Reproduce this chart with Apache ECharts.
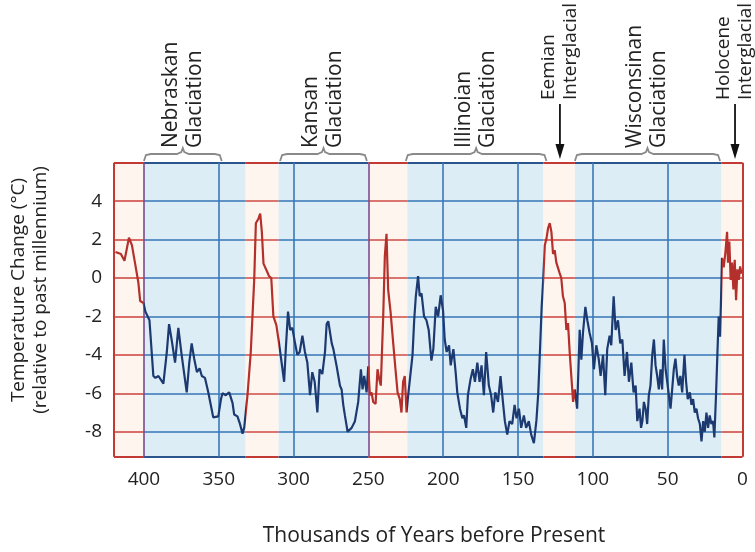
<!DOCTYPE html>
<html>
<head>
<meta charset="utf-8">
<script src="https://cdn.jsdelivr.net/npm/echarts@6/dist/echarts.min.js"></script>
<style>
  html, body { margin: 0; padding: 0; background: #fff; }
  #chart { width: 755px; height: 552px; }
</style>
</head>
<body>
<div id="chart"></div>
<script>
// thousands of years before present
var ages = [
  419, 415.4, 413, 410, 408, 406, 403.7, 402.5, 400.3, 399, 396.3, 395.4, 393.7, 392.3, 390.3, 387,
  384.7, 383.2, 381.5, 379.2, 377, 374.8, 371.4, 369.7, 368.1, 366.4, 364.6, 362.8, 361.3, 359.2, 357,
  353.7, 350.3, 348.5, 347.5, 345.3, 343, 340.8, 339.7, 337.5, 336, 334.1, 333, 330.8, 328.6, 326.3,
  325.2, 323.4, 322.3, 321.2, 320.1, 319, 317.5, 316.4, 314.9, 313.5, 311.5, 309.7, 307.4, 306.3, 305.2,
  303.7, 302.3, 300.8, 299, 297.5, 295.9, 294.1, 292.4, 290.8, 289, 287.5, 285.9, 284.1, 282.6, 280.8,
  279, 277.9, 276.8, 274.5, 273.4, 271.2, 270.1, 269, 267.9, 266.8, 265.7, 263.9, 261.2, 259, 256.8,
  255, 253.9, 252.8, 251.2, 250.1, 249, 247.9, 246.8, 245.2, 243.9, 242.8, 241.7, 240.1, 239, 237.9,
  236.8, 235.2, 233.4, 231.9, 230.5, 229, 227.9, 226.8, 225.7, 224.5, 223.4, 222.1, 220.5, 219.4, 218.3,
  216.8, 215.7, 214.5, 212.8, 211.2, 209.7, 207.9, 206.6, 205, 203.4, 201.7, 200.1, 199, 197.7, 196.1,
  195, 193.2, 191.7, 190.6, 188.8, 187.2, 186.1, 184.6, 183.5, 181.7, 180.2, 178.8, 177.2, 175.7, 174.4,
  172.8, 171.3, 169.5, 168, 166.6, 165.2, 163.4, 161.7, 160.1, 158.8, 157.2, 155.7, 153.9, 152.3, 151,
  149.4, 147.9, 146.1, 144.6, 142.8, 141.2, 139.4, 137.7, 136.5, 135.2, 134.2, 133.2, 132.1, 131, 129.9,
  128.8, 127.7, 126.6, 125.5, 124.4, 123.3, 122.2, 121.1, 120, 118.8, 117.7, 116.6, 115.5, 114.4, 113.2,
  112.1, 110.5, 108.8, 107.7, 106.6, 105, 103.7, 102.2, 100.6, 99.3, 97.7, 96.1, 94.8, 93.2, 91.7,
  90.4, 88.8, 87.7, 86.1, 84.8, 83.2, 81.7, 80.3, 78.8, 77.2, 75.9, 74.3, 72.8, 71.4, 70.3,
  68.8, 67.8, 66.9, 65.9, 64.8, 63.7, 62.6, 61.5, 60.3, 59.2, 58.1, 57, 55.9, 54.8, 53.7,
  52.6, 51.4, 50.3, 49.2, 48.1, 47, 45.9, 44.8, 43.7, 42.6, 41.5, 40.3, 38.8, 37.7, 36.6,
  35.2, 34.1, 33, 31.9, 30.8, 29.7, 28.5, 27.4, 26.3, 25.2, 24.1, 23, 21.9, 20.8, 19.7,
  18.8, 17.7, 16.8, 15.9, 15, 14.3, 13.7, 12.6, 11.4, 10.3, 9.7, 8.8, 7.9, 7, 6.1,
  5.2, 4.3, 3.4, 2.5, 1.6, 0.7, 0.2
];
// temperature change (°C) relative to past millennium
var temps = [
  1.35, 1.25, 0.9, 2.1, 1.7, 0.8, -0.25, -1.2, -1.3, -1.75, -2.2, -3.2, -5.1, -5.2, -5.1, -5.5,
  -3.85, -2.4, -3.2, -4.4, -2.6, -4.0, -5.95, -4.4, -3.4, -4.2, -4.9, -4.7, -5.1, -5.2, -5.95,
  -7.25, -7.2, -6.3, -6.0, -6.1, -5.95, -6.5, -7.1, -7.2, -7.55, -8.1, -7.8, -6.1, -3.85, -0.1,
  2.85, 3.1, 3.35, 2.4, 0.75, 0.85, 0.3, 0.1, 0, -2.0, -2.45, -3.4, -4.75, -5.4, -3.7,
  -1.75, -2.7, -2.6, -3.4, -4.0, -3.85, -3.0, -3.85, -4.4, -6.1, -4.9, -5.4, -7.0, -4.75, -5.0,
  -3.85, -2.4, -2.25, -3.4, -3.7, -4.6, -5.1, -5.6, -5.8, -6.6, -7.15, -8.0, -7.8, -7.45, -6.45,
  -4.75, -5.8, -5.1, -5.95, -4.6, -6.1, -5.95, -6.45, -6.55, -4.75, -5.25, -5.6, -2.0, 1.15, 2.3,
  -0.6, -1.75, -3.4, -4.75, -5.95, -6.3, -7.0, -5.4, -5.1, -7.0, -6.1, -6.0, -4.0, -2.2, -0.95,
  0.1, -0.95, -0.8, -2.0, -2.2, -2.7, -4.3, -3.7, -1.5, -2.0, -0.9, -1.7, -3.2, -3.85, -3.5,
  -4.55, -3.7, -4.9, -5.95, -6.8, -7.3, -7.15, -7.8, -6.1, -5.25, -4.75, -5.4, -4.4, -5.4, -4.55,
  -6.1, -3.85, -5.6, -6.1, -7.0, -5.95, -6.45, -5.1, -6.45, -7.45, -8.15, -7.45, -7.6, -6.6, -7.3,
  -6.8, -7.8, -7.15, -7.8, -7.45, -8.15, -8.6, -7.4, -6.0, -3.5, -1.5, -0.1, 1.7, 2.05, 2.6,
  2.85, 2.4, 1.25, 1.45, 0.8, 0.9, 0.25, 0, -0.95, -1.3, -2.7, -2.35, -3.85, -5.1, -6.45,
  -5.8, -6.8, -2.7, -4.25, -2.85, -1.5, -2.2, -2.85, -3.4, -4.75, -3.5, -4.2, -5.1, -4.0, -6.1,
  -3.7, -3.0, -3.5, -0.95, -2.7, -2.2, -3.4, -3.2, -5.1, -3.85, -5.4, -4.4, -5.95, -5.6, -7.45,
  -6.8, -7.8, -7.45, -6.45, -6.8, -7.6, -6.1, -5.6, -4.0, -3.2, -4.55, -5.1, -5.8, -4.75, -5.8,
  -3.2, -4.75, -5.4, -5.4, -6.8, -5.8, -4.75, -4.2, -5.1, -5.6, -5.1, -5.95, -4.0, -5.4, -6.3,
  -5.95, -6.6, -6.3, -7.0, -6.8, -7.3, -7.6, -8.5, -7.45, -8.0, -7.0, -7.8, -7.15, -7.6, -7.45,
  -8.3, -6.1, -4.0, -2.0, -3.05, -0.95, 1.05, 0.55, 1.35, 2.4, 0.8, 1.9, -0.1, 0.8, -0.6,
  0.95, -1.15, 0.45, -0.1, 0.6, 0.25, 0.3
];

var xTicks = [400, 350, 300, 250, 200, 150, 100, 50, 0];
var yTicks = [4, 2, 0, -2, -4, -6, -8];

// warm (interglacial) and cold (glacial) periods
var periodStart = [420, 400, 332, 310, 250, 224, 133, 112, 14];
var periodEnd   = [400, 332, 310, 250, 224, 133, 112, 14, 0];
var periodKind  = ['warm', 'cold', 'warm', 'cold', 'warm', 'cold', 'warm', 'cold', 'warm'];

var glaciationNames = ['Nebraskan\nGlaciation', 'Kansan\nGlaciation', 'Illinoian\nGlaciation', 'Wisconsinan\nGlaciation'];
var glaciationFrom  = [400, 309, 225, 112];
var glaciationTo    = [348, 251, 131, 15];
var interglacialNames = ['Eemian\nInterglacial', 'Holocene\nInterglacial'];
var interglacialAt    = [122, 5];

var X_MIN = 0, X_MAX = 420, Y_MIN = -9.3, Y_MAX = 6;
var FONT = '"Open Sans", "DejaVu Sans", sans-serif';

var shade = { warm: '#fdf5ee', cold: '#dcedf6' };
var ruleColor = { warm: '#cf4a44', cold: '#3673b5' };
var borderColor = { warm: '#c23a33', cold: '#2b548c' };
var lineColor = { warm: '#b3302c', cold: '#1c3a70' };

var chart = echarts.init(document.getElementById('chart'));

var areas = [];
var rules = [];
var pieces = [];
periodStart.forEach(function (s, i) {
  var e = periodEnd[i], k = periodKind[i];
  areas.push([{ xAxis: s, itemStyle: { color: shade[k] } }, { xAxis: e }]);
  pieces.push({ gte: e, lt: s, color: lineColor[k] });
  yTicks.forEach(function (y) {
    rules.push([{ coord: [s, y], lineStyle: { color: ruleColor[k], width: 1.6, type: 'solid' } }, { coord: [e, y] }]);
  });
  // top and bottom frame
  rules.push([{ coord: [s, Y_MAX], lineStyle: { color: borderColor[k], width: 2, type: 'solid' } }, { coord: [e, Y_MAX] }]);
  rules.push([{ coord: [s, Y_MIN], lineStyle: { color: borderColor[k], width: 2, type: 'solid' } }, { coord: [e, Y_MIN] }]);
});
xTicks.forEach(function (x) {
  if (x === 0) return;
  var boundary = periodStart.indexOf(x) >= 0;
  rules.push([{ coord: [x, Y_MIN], lineStyle: { color: boundary ? '#7b4a8e' : '#3a78b8', width: 1.6, type: 'solid' } }, { coord: [x, Y_MAX] }]);
});
[X_MIN, X_MAX].forEach(function (x) {
  rules.push([{ coord: [x, Y_MIN], lineStyle: { color: '#c23a33', width: 2, type: 'solid' } }, { coord: [x, Y_MAX] }]);
});

var seriesData = ages.map(function (a, i) { return [a, temps[i]]; });

var option = {
  animation: false,
  grid: { left: 114, right: 12.5, top: 162.7, bottom: 95.3 },
  xAxis: {
    type: 'value', inverse: true, min: X_MIN, max: X_MAX,
    axisLine: { show: false },
    axisTick: { show: true, customValues: xTicks, length: 7, lineStyle: { color: '#222', width: 1.5 } },
    axisLabel: { customValues: xTicks, margin: 13, fontSize: 19, color: '#222', fontFamily: FONT },
    splitLine: { show: false }
  },
  yAxis: {
    type: 'value', min: Y_MIN, max: Y_MAX,
    axisLine: { show: false },
    axisTick: { show: true, customValues: yTicks, length: 8, lineStyle: { color: '#222', width: 1.5 } },
    axisLabel: { customValues: yTicks, margin: 12, fontSize: 19, color: '#222', fontFamily: FONT },
    splitLine: { show: false }
  },
  visualMap: { type: 'piecewise', show: false, dimension: 0, seriesIndex: 2, pieces: pieces },
  series: [
    { name: 'periods', type: 'line', data: [], silent: true,
      markArea: { silent: true, data: areas } },
    { name: 'rules', type: 'line', data: [], silent: true, z: 3,
      markLine: { silent: true, symbol: ['none', 'none'], label: { show: false }, data: rules } },
    { name: 'temperature', type: 'line', data: seriesData, z: 5, symbol: 'none',
      lineStyle: { width: 2.2 } }
  ]
};
chart.setOption(option);

function px(x, y) { return chart.convertToPixel('grid', [x, y]); }

function arrowDown(x, y0, y1, color, w, h) {
  return [
    { type: 'line', shape: { x1: x, y1: y0, x2: x, y2: y1 - h + 2 }, style: { stroke: color, lineWidth: 1.8 } },
    { type: 'polygon', shape: { points: [[x - w / 2, y1 - h], [x + w / 2, y1 - h], [x, y1]] }, style: { fill: color } }
  ];
}

var g = [];
glaciationNames.forEach(function (name, i) {
  var a = px(glaciationFrom[i], 0)[0], b = px(glaciationTo[i], 0)[0];
  var m = (a + b) / 2, y = 154;
  g.push({ type: 'text', x: m, y: 148, rotation: Math.PI / 2,
    style: { text: name, fill: '#222', font: '21px ' + FONT, align: 'left', verticalAlign: 'middle', lineHeight: 24 } });
  g.push({ type: 'polyline', shape: { points: [[a, y + 7], [a + 2, y + 1], [a + 7, y], [m - 6, y], [m - 1.5, y - 2], [m, y - 6], [m + 1.5, y - 2], [m + 6, y], [b - 7, y], [b - 2, y + 1], [b, y + 7]] },
    style: { stroke: '#8a8a8a', lineWidth: 1.8, fill: null } });
});
interglacialNames.forEach(function (name, i) {
  var x = px(interglacialAt[i], 0)[0];
  g.push({ type: 'text', x: x, y: 100, rotation: Math.PI / 2,
    style: { text: name, fill: '#222', font: '19px ' + FONT, align: 'left', verticalAlign: 'middle', lineHeight: 22 } });
  g = g.concat(arrowDown(x, 104, 159, '#111', 9, 15));
});

// annotation
var hp = px(177, 1.45);
g.push({ type: 'text', x: hp[0], y: hp[1],
  style: { text: 'Humans\nemerge in\nAfrica', fill: '#1f5e9e', font: 'bold 15px ' + FONT, align: 'center', verticalAlign: 'middle', lineHeight: 17 } });
var a0 = px(174.5, 0), a1 = px(174.5, -1.95);
g = g.concat(arrowDown(a0[0], a0[1], a1[1], '#1f4f86', 8, 14));

// axis titles
g.push({ type: 'text', x: 30, y: 290, rotation: Math.PI / 2,
  style: { text: 'Temperature Change (°C)\n(relative to past millennium)', fill: '#222', font: '19px ' + FONT, align: 'center', verticalAlign: 'middle', lineHeight: 22 } });
g.push({ type: 'text', x: 434, y: 536,
  style: { text: 'Thousands of Years before Present', fill: '#222', font: '21px ' + FONT, align: 'center', verticalAlign: 'middle' } });

chart.setOption({ graphic: { elements: g } });
</script>
</body>
</html>
